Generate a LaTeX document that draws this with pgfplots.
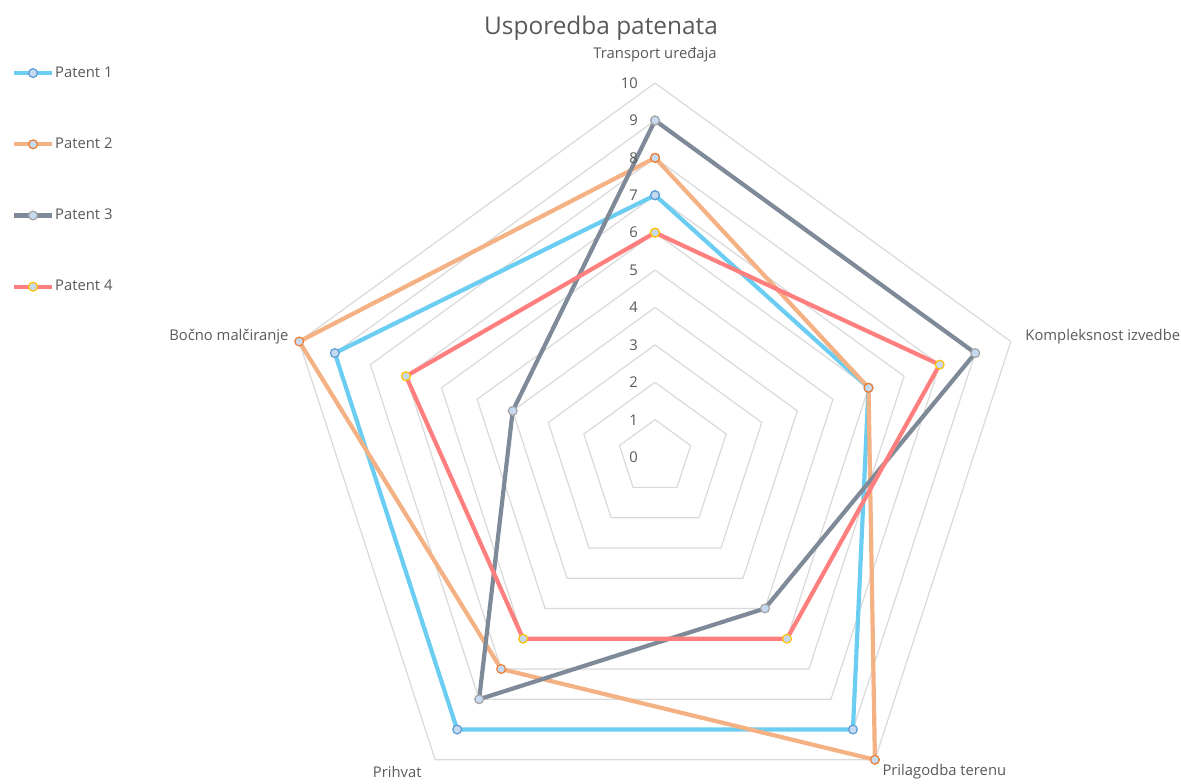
\documentclass[border=0pt]{standalone}
\usepackage{fontspec}
\setmainfont{Open Sans}
\usepackage{pgfplots}
\pgfplotsset{compat=1.18}
\definecolor{lone}{HTML}{6CCDF2}
\definecolor{ltwo}{HTML}{F4B183}
\definecolor{lthree}{HTML}{7F8A99}
\definecolor{lfour}{HTML}{FF7F7F}
\definecolor{mfill}{HTML}{C5D9F1}
\definecolor{mone}{HTML}{5B9BD5}
\definecolor{mtwo}{HTML}{ED7D31}
\definecolor{mthree}{HTML}{A5A5A5}
\definecolor{mfour}{HTML}{FFC000}
\definecolor{gridc}{HTML}{D9D9D9}
\definecolor{txt}{HTML}{595959}
\begin{document}
\begin{tikzpicture}
\begin{axis}[
  x=18.7pt, y=18.7pt,
  xmin=-17.51, xmax=14.06, ymin=-8.72, ymax=12.22,
  hide axis, clip=false,
  legend style={draw=none, fill=none, inner sep=0pt, outer sep=0pt,
    font=\fontsize{7.4}{8}\selectfont, text=txt,
    nodes={inner sep=0.5pt, text height=5.5pt, text depth=1.5pt},
    row sep=27.6pt,
    at={(axis cs:-17.19,10.48)}, anchor=north west},
  legend cell align=left,
  legend image code/.code={\draw[mark repeat=2,mark phase=2] plot coordinates {(0pt,0pt) (9.5pt,0pt) (19pt,0pt)};},
]
% grid pentagons
\pgfplotsinvokeforeach{1,...,10}{
  \addplot[gridc, line width=0.6pt, data cs=polar, forget plot] coordinates {(90,#1) (18,#1) (-54,#1) (-126,#1) (162,#1) (90,#1)};
}
\addplot[lone, line width=2.1pt, mark=*, mark size=2.2pt, mark options={fill=mfill, draw=mone, line width=0.6pt}, data cs=polar]
  coordinates {(90,7) (18,6) (-54,9) (-126,9) (162,9) (90,7)};
\addlegendentry{Patent 1}
\addplot[ltwo, line width=2.1pt, mark=*, mark size=2.2pt, mark options={fill=mfill, draw=mtwo, line width=0.6pt}, data cs=polar]
  coordinates {(90,8) (18,6) (-54,10) (-126,7) (162,10) (90,8)};
\addlegendentry{Patent 2}
\addplot[lthree, line width=2.1pt, mark=*, mark size=2.2pt, mark options={fill=mfill, draw=mthree, line width=0.6pt}, data cs=polar]
  coordinates {(90,9) (18,9) (-54,5) (-126,8) (162,4) (90,9)};
\addlegendentry{Patent 3}
\addplot[lfour, line width=2.1pt, mark=*, mark size=2.2pt, mark options={fill=mfill, draw=mfour, line width=0.6pt}, data cs=polar]
  coordinates {(90,6) (18,8) (-54,6) (-126,6) (162,7) (90,6)};
\addlegendentry{Patent 4}
% tick labels
\pgfplotsinvokeforeach{0,...,10}{
  \node[anchor=east, inner sep=0pt, text=txt, font=\fontsize{7.4}{8}\selectfont] at (axis cs:-0.45,#1) {#1};
}
% category labels
\begin{scope}[every node/.style={inner sep=0pt, text=txt, font=\fontsize{7.4}{8}\selectfont}]
\node[anchor=center] at (axis cs:0,10.75) {Transport uređaja};
\node[anchor=west] at (axis cs:9.89,3.21) {Kompleksnost izvedbe};
\node[anchor=west] at (axis cs:6.07,-8.42) {Prilagodba terenu};
\node[anchor=east] at (axis cs:-6.23,-8.42) {Prihvat};
\node[anchor=east] at (axis cs:-9.79,3.21) {Bočno malčiranje};
\end{scope}
\node[anchor=center, inner sep=0pt, text=txt, font=\fontsize{12.2}{14}\selectfont] at (axis cs:-1.444,11.47) {Usporedba patenata};
\coordinate (bl) at (axis cs:-17.51,-8.72);
\coordinate (tr) at (axis cs:14.06,12.22);
\end{axis}
\pgfresetboundingbox
\path[use as bounding box] (bl) rectangle (tr);
\end{tikzpicture}
\end{document}
